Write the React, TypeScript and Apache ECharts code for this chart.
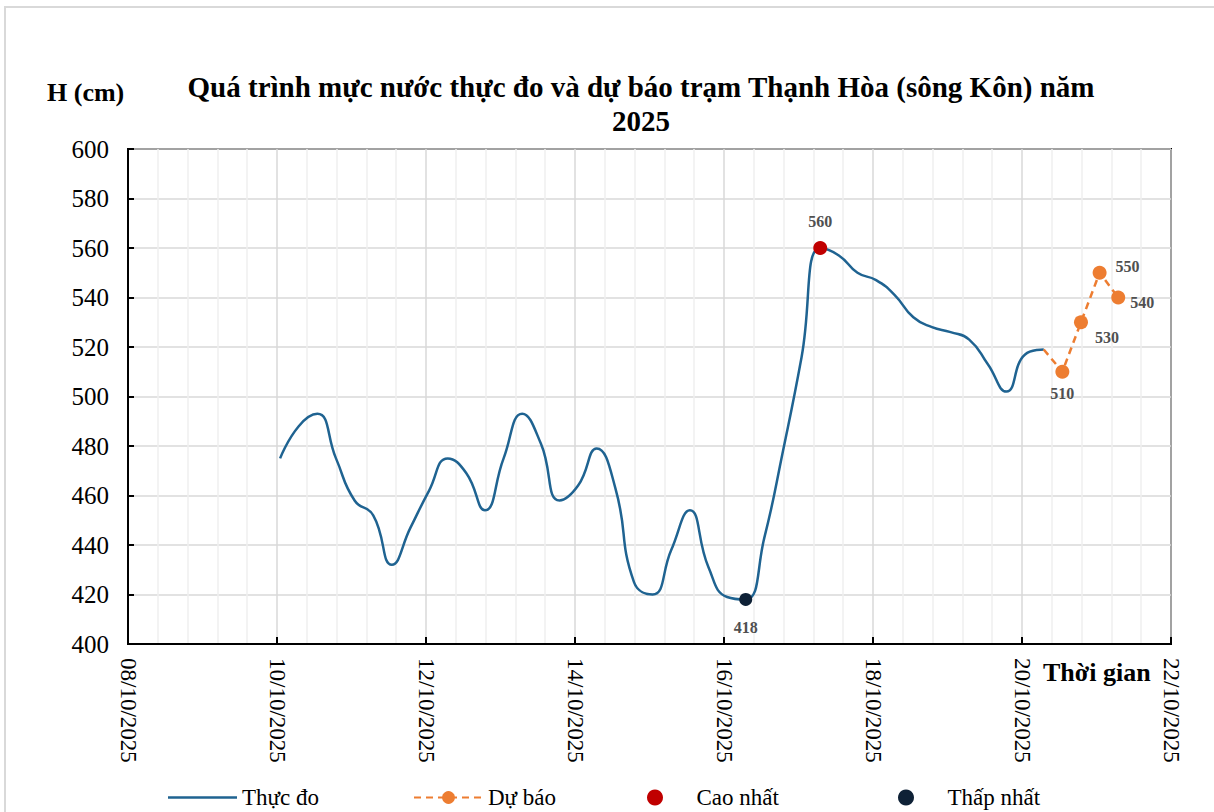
import React, { useEffect, useRef } from 'react';
import * as echarts from 'echarts';

// ---------- data ----------
const axisStart = '2025-10-08 00:00';
const axisEnd = '2025-10-22 00:00';
const axisStepDays = 2;
const yMin = 400;
const yMax = 600;
const yStep = 20;

const observedTimes = [
  '2025-10-10 01:00', '2025-10-10 07:00', '2025-10-10 13:00', '2025-10-10 19:00',
  '2025-10-11 01:00', '2025-10-11 07:00', '2025-10-11 13:00', '2025-10-11 19:00',
  '2025-10-12 01:00', '2025-10-12 07:00', '2025-10-12 13:00', '2025-10-12 19:00',
  '2025-10-13 01:00', '2025-10-13 07:00', '2025-10-13 13:00', '2025-10-13 19:00',
  '2025-10-14 01:00', '2025-10-14 07:00', '2025-10-14 13:00', '2025-10-14 19:00',
  '2025-10-15 01:00', '2025-10-15 07:00', '2025-10-15 13:00', '2025-10-15 19:00',
  '2025-10-16 01:00', '2025-10-16 07:00', '2025-10-16 13:00', '2025-10-16 19:00',
  '2025-10-17 01:00', '2025-10-17 07:00', '2025-10-17 13:00', '2025-10-17 19:00',
  '2025-10-18 01:00', '2025-10-18 07:00', '2025-10-18 13:00', '2025-10-18 19:00',
  '2025-10-19 01:00', '2025-10-19 07:00', '2025-10-19 13:00', '2025-10-19 19:00',
  '2025-10-20 01:00', '2025-10-20 07:00',
];
const observedValues = [
  475, 488, 493, 475,
  458, 452, 432, 447,
  462, 475, 469, 454,
  475, 493, 481, 458,
  464, 479, 463, 425,
  420, 438, 454, 431,
  419, 418, 443, 478,
  516, 560, 557, 550,
  547, 541, 532, 528,
  526, 523, 513, 502,
  517, 519,
];

const forecastTimes = ['2025-10-20 07:00', '2025-10-20 13:00', '2025-10-20 19:00', '2025-10-21 01:00', '2025-10-21 07:00'];
const forecastValues = [519, 510, 530, 550, 540];

const highestTime = '2025-10-17 07:00';
const highestValue = 560;
const lowestTime = '2025-10-16 07:00';
const lowestValue = 418;

const seriesNames = ['Thực đo', 'Dự báo', 'Cao nhất', 'Thấp nhất'];
const titleLine1 = 'Quá trình mực nước thực đo và dự báo trạm Thạnh Hòa (sông Kôn) năm';
const titleLine2 = '2025';
const yAxisTitle = 'H (cm)';
const xAxisTitle = 'Thời gian';

// ---------- helpers ----------
const DAY = 86400000;
const toMs = (s: string) => Date.parse(s.replace(' ', 'T') + ':00Z');
const baseMs = toMs(axisStart);
const toDay = (s: string) => (toMs(s) - baseMs) / DAY;
const pad = (n: number) => (n < 10 ? '0' + n : '' + n);
const fmtDate = (v: number) => {
  const d = new Date(baseMs + v * DAY);
  return pad(d.getUTCDate()) + '/' + pad(d.getUTCMonth() + 1) + '/' + d.getUTCFullYear();
};

const FONT = "'Liberation Serif', 'Times New Roman', serif";
const BLUE = '#1f6391';
const ORANGE = '#ed7d31';
const RED = '#c00000';
const DARK = '#0e2136';
const LABEL_GRAY = '#505050';

export default function App() {
  const ref = useRef<HTMLDivElement>(null);
  useEffect(() => {
    if (!ref.current) return;
    const chart = echarts.init(ref.current, undefined, { renderer: 'svg' });

    const labelStyle = {
      show: true,
      fontFamily: FONT,
      fontWeight: 'bold' as const,
      fontSize: 16,
      color: LABEL_GRAY,
    };
    const forecastLabelPos: any[] = [
      null,
      { position: 'bottom', distance: 7 },
      { position: 'bottom', offset: [26, -5] },
      { position: 'right', offset: [4, -6] },
      { position: 'right', offset: [0, 5] },
    ];

    const forecastData = forecastTimes.map((t, i) => {
      const item: any = { value: [toDay(t), forecastValues[i]] };
      if (i === 0) {
        item.symbol = 'none';
        item.label = { show: false };
      } else {
        item.label = { ...labelStyle, ...forecastLabelPos[i], formatter: String(forecastValues[i]) };
      }
      return item;
    });

    const legendBase = {
      top: 781,
      itemHeight: 16,
      itemGap: 0,
      textStyle: { fontFamily: FONT, fontSize: 23, color: '#000' },
      selectedMode: false as const,
    };

    const option: any = {
      animation: false,
      backgroundColor: '#fff',
      grid: {
        left: 128,
        top: 149,
        right: 43,
        bottom: 168,
        show: true,
        borderColor: '#000',
        borderWidth: 2,
        containLabel: false,
      },
      xAxis: {
        type: 'value',
        min: toDay(axisStart),
        max: toDay(axisEnd),
        interval: axisStepDays,
        axisLine: { show: true, lineStyle: { color: '#000', width: 2 } },
        axisTick: { show: true, inside: true, length: 7, lineStyle: { color: '#000', width: 2 } },
        axisLabel: {
          rotate: -90,
          margin: 14,
          fontFamily: FONT,
          fontSize: 23,
          color: '#000',
          formatter: (v: number) => fmtDate(v),
          showMinLabel: true,
          showMaxLabel: true,
        },
        splitLine: { show: true, lineStyle: { color: '#d9d9d9', width: 1.5 } },
        minorTick: { show: false, splitNumber: 5 },
        minorSplitLine: { show: true, lineStyle: { color: '#efefef', width: 1.5 } },
      },
      yAxis: {
        type: 'value',
        min: yMin,
        max: yMax,
        interval: yStep,
        axisLine: { show: true, lineStyle: { color: '#000', width: 2 } },
        axisTick: { show: true, inside: true, length: 6, lineStyle: { color: '#000', width: 2 } },
        axisLabel: { margin: 19, fontFamily: FONT, fontSize: 25, color: '#000' },
        splitLine: { show: true, lineStyle: { color: '#d9d9d9', width: 1.5 } },
      },
      legend: [
        {
          ...legendBase,
          left: 163,
          itemWidth: 69,
          data: [{ name: seriesNames[0], icon: 'path://M0,0 L69,0 L69,2.6 L0,2.6 Z' }],
        },
        { ...legendBase, left: 408, itemWidth: 69, data: [seriesNames[1]] },
        { ...legendBase, left: 642, itemWidth: 73, data: [seriesNames[2]] },
        { ...legendBase, left: 893, itemWidth: 73, data: [seriesNames[3]] },
      ],
      graphic: [
        {
          type: 'rect',
          z: -10,
          silent: true,
          shape: { x: 5, y: 7, width: 1400, height: 1000 },
          style: { fill: 'none', stroke: '#d9d9d9', lineWidth: 2 },
        },
        {
          type: 'text',
          x: 641,
          y: 87,
          style: {
            text: titleLine1,
            font: `bold 29px ${FONT}`,
            fill: '#000',
            align: 'center',
            verticalAlign: 'middle',
            textAlign: 'center',
            textVerticalAlign: 'middle',
          },
        },
        {
          type: 'text',
          x: 641,
          y: 121,
          style: {
            text: titleLine2,
            font: `bold 29px ${FONT}`,
            fill: '#000',
            align: 'center',
            verticalAlign: 'middle',
            textAlign: 'center',
            textVerticalAlign: 'middle',
          },
        },
        {
          type: 'text',
          x: 47,
          y: 92,
          style: {
            text: yAxisTitle,
            font: `bold 26px ${FONT}`,
            fill: '#000',
            align: 'left',
            verticalAlign: 'middle',
            textAlign: 'left',
            textVerticalAlign: 'middle',
          },
        },
        {
          type: 'text',
          x: 1043,
          y: 672,
          style: {
            text: xAxisTitle,
            font: `bold 26px ${FONT}`,
            fill: '#000',
            align: 'left',
            verticalAlign: 'middle',
            textAlign: 'left',
            textVerticalAlign: 'middle',
          },
        },
      ],
      series: [
        {
          name: seriesNames[0],
          type: 'line',
          smooth: 0.5,
          symbol: 'none',
          lineStyle: { color: BLUE, width: 2.5 },
          itemStyle: { color: BLUE },
          data: observedTimes.map((t, i) => [toDay(t), observedValues[i]]),
          z: 2,
        },
        {
          name: seriesNames[1],
          type: 'line',
          smooth: false,
          symbol: 'circle',
          symbolSize: 14,
          showAllSymbol: true,
          lineStyle: { color: ORANGE, width: 2.5, type: [7, 5] },
          itemStyle: { color: ORANGE },
          data: forecastData,
          z: 3,
        },
        {
          name: seriesNames[2],
          type: 'scatter',
          symbol: 'circle',
          symbolSize: 14,
          itemStyle: { color: RED, opacity: 1 },
          label: { ...labelStyle, position: 'top', distance: 12, formatter: String(highestValue) },
          data: [[toDay(highestTime), highestValue]],
          z: 4,
        },
        {
          name: seriesNames[3],
          type: 'scatter',
          symbol: 'circle',
          symbolSize: 13,
          itemStyle: { color: DARK, opacity: 1 },
          label: { ...labelStyle, position: 'bottom', distance: 14, formatter: String(lowestValue) },
          data: [[toDay(lowestTime), lowestValue]],
          z: 4,
        },
      ],
    };

    chart.setOption(option);
    return () => chart.dispose();
  }, []);

  return (
    <div
      ref={ref}
      style={{ position: 'fixed', left: 0, top: 0, width: 1214, height: 812, background: '#fff' }}
    />
  );
}
